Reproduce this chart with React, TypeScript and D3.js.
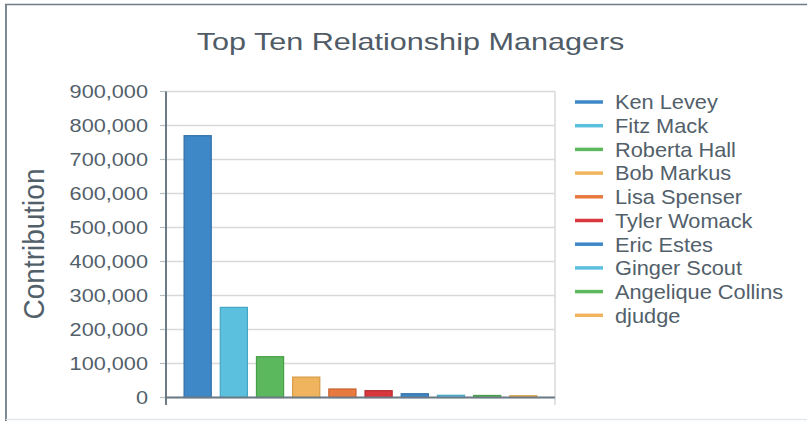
import React from "react";
import * as d3 from "d3";

const managers = [
  "Ken Levey",
  "Fitz Mack",
  "Roberta Hall",
  "Bob Markus",
  "Lisa Spenser",
  "Tyler Womack",
  "Eric Estes",
  "Ginger Scout",
  "Angelique Collins",
  "djudge",
];
const contributions = [770000, 265000, 120000, 60000, 25000, 20000, 11000, 6500, 6000, 5000];
const yTicks = [0, 100000, 200000, 300000, 400000, 500000, 600000, 700000, 800000, 900000];
const palette = ["#3e88c8", "#5bc0de", "#5cb85c", "#f0b45e", "#e8793f", "#d9363e"];
const strokes = ["#2f6ea8", "#43a6c4", "#479f47", "#d69a45", "#c9612d", "#b52a30"];

const W = 807;
const H = 421;
const plot = { left: 166, right: 555, top: 91.5, bottom: 397.5 };
const textColor = "#52606a";
const axisColor = "#6b7a85";
const FONT = "'Liberation Sans', Arial, sans-serif";

export default function App() {
  const x = d3
    .scaleBand<string>()
    .domain(managers)
    .range([plot.left, plot.right])
    .paddingInner(0.25)
    .paddingOuter(0.5);
  const y = d3.scaleLinear().domain([0, 900000]).range([plot.bottom, plot.top]);
  const fmt = d3.format(",");

  const legendTop = 102;
  const legendStep = 23.7;

  return (
    <svg
      width={W}
      height={H}
      style={{ position: "absolute", left: 0, top: 0, background: "#fff" }}
      fontFamily={FONT}
    >
      {/* frame */}
      <line x1={5} x2={W} y1={4.5} y2={4.5} stroke="#6f7d88" strokeWidth={1.6} />
      <line x1={6} x2={6} y1={4} y2={H} stroke="#6f7d88" strokeWidth={1.8} />
      <line x1={6} x2={W} y1={419.5} y2={419.5} stroke="#e3e7ea" strokeWidth={1.5} />

      {/* title */}
      <text
        transform={`translate(${410.5},${50}) scale(1.33,1)`}
        textAnchor="middle"
        fontSize={23}
        fill="#4f5b66"
      >
        Top Ten Relationship Managers
      </text>

      {/* grid */}
      {yTicks.map((t) => (
        <line
          key={"g" + t}
          x1={plot.left}
          x2={plot.right}
          y1={y(t)}
          y2={y(t)}
          stroke="#d9d9d9"
          strokeWidth={1.5}
        />
      ))}
      <line x1={plot.right} x2={plot.right} y1={plot.top} y2={405} stroke="#d9d9d9" strokeWidth={1.5} />

      {/* y ticks & labels */}
      {yTicks.map((t) => (
        <g key={"t" + t}>
          <line x1={160} x2={plot.left} y1={y(t)} y2={y(t)} stroke="#b5bcc2" strokeWidth={1.2} />
          <text
            transform={`translate(${148},${y(t) + 6.3}) scale(1.24,1)`}
            textAnchor="end"
            fontSize={17.5}
            fill={textColor}
          >
            {fmt(t)}
          </text>
        </g>
      ))}

      {/* bars */}
      {managers.map((m, i) => (
        <rect
          key={m}
          x={x(m)!}
          y={y(contributions[i])}
          width={x.bandwidth()}
          height={plot.bottom - y(contributions[i])}
          fill={palette[i % palette.length]}
          stroke={strokes[i % strokes.length]}
          strokeWidth={1.2}
        />
      ))}

      {/* axes */}
      <line x1={plot.left} x2={plot.left} y1={plot.top} y2={405} stroke={axisColor} strokeWidth={2} />
      <line x1={plot.left} x2={plot.right} y1={plot.bottom} y2={plot.bottom} stroke={axisColor} strokeWidth={2} />

      {/* y axis title */}
      <text
        transform={`translate(${43.5},${244}) scale(1.06,1) rotate(-90)`}
        textAnchor="middle"
        fontSize={28}
        fill={textColor}
      >
        Contribution
      </text>

      {/* legend */}
      {managers.map((m, i) => {
        const cy = legendTop + i * legendStep;
        return (
          <g key={"l" + m}>
            <line x1={575} x2={603} y1={cy} y2={cy} stroke={palette[i % palette.length]} strokeWidth={3.5} />
            <text
              transform={`translate(${615},${cy + 7.3}) scale(1.1,1)`}
              fontSize={19.8}
              fill={textColor}
            >
              {m}
            </text>
          </g>
        );
      })}
    </svg>
  );
}
